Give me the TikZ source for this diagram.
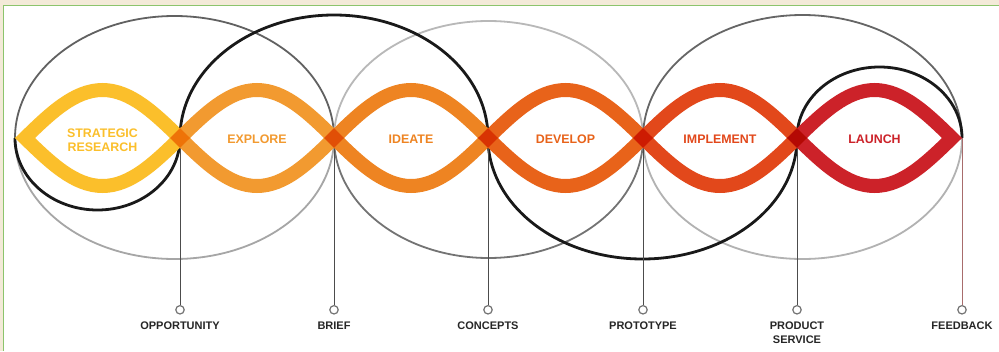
\documentclass[tikz,border=0pt]{standalone}
\usepackage{fontspec}
\setsansfont{Liberation Sans}
\usetikzlibrary{positioning}
\definecolor{paper}{HTML}{F3EAD8}
\definecolor{rim}{HTML}{8CC46C}
\definecolor{research}{HTML}{FBBF2B}
\definecolor{explore}{HTML}{F29A30}
\definecolor{ideate}{HTML}{EE8422}
\definecolor{develop}{HTML}{E8631A}
\definecolor{implement}{HTML}{E2481B}
\definecolor{launch}{HTML}{CC2229}
\definecolor{feedline}{HTML}{A86C6C}

\begin{document}
\begin{tikzpicture}[x=1pt, y=-1pt, semithick, node distance=7pt]
\tikzstyle{lens}=[line width=14pt, miter limit=20]
\tikzstyle{orbit}=[line width=1.8pt]
\tikzstyle{wave}=[line width=2.8pt, draw=black!90]
\tikzstyle{drop}=[draw=black!70, line width=1pt]
\tikzstyle{ring}=[circle, draw=black!55, fill=white, line width=1.2pt, minimum size=8.4pt, inner sep=0pt]
\tikzstyle{milestone}=[font=\sffamily\bfseries\fontsize{11}{13.5}\selectfont, text=black!85, inner sep=0pt, align=center]
\tikzstyle{phase}=[font=\sffamily\bfseries\fontsize{12.4}{14}\selectfont, inner sep=0pt, align=center]
\useasboundingbox (0,0) rectangle (999,351);
\fill[paper] (0,0) rectangle (999,351);
\fill[white] (4,6) rectangle (999,351);
\draw[rim, line width=1.5pt] (3.5,351) -- (3.5,5.5) -- (999,5.5);
% crossing points on the axis
\coordinate (0)  at (15,138);
\coordinate (0t) at (25,138);
\coordinate (1)  at (180,138);
\coordinate (2)  at (334,138);
\coordinate (3)  at (488,138);
\coordinate (4)  at (643,138);
\coordinate (5)  at (797,138);
\coordinate (6t) at (952,138);
\coordinate (6)  at (962,138);
% grey rings
\draw[orbit, black!62] (0) arc[start angle=180, end angle=360, x radius=159.5, y radius=122];
\draw[orbit, black!35] (0) arc[start angle=180, end angle=0, x radius=159.5, y radius=121];
\draw[orbit, black!28] (2) arc[start angle=180, end angle=360, x radius=154.5, y radius=117];
\draw[orbit, black!55] (2) arc[start angle=180, end angle=0, x radius=154.5, y radius=120];
\draw[orbit, black!60] (4) arc[start angle=180, end angle=360, x radius=159.5, y radius=123];
\draw[orbit, black!30] (4) arc[start angle=180, end angle=0, x radius=159.5, y radius=121];
% black wave
\draw[wave] (0) arc[start angle=180, end angle=0, x radius=82.5, y radius=72]
  arc[start angle=180, end angle=360, x radius=154, y radius=123]
  arc[start angle=180, end angle=0, x radius=154.5, y radius=121]
  arc[start angle=180, end angle=360, x radius=82.5, y radius=71];
% milestones
\node[ring] (c1) [below=167pt of 1] {};
\node[ring] (c2) [below=167pt of 2] {};
\node[ring] (c3) [below=167pt of 3] {};
\node[ring] (c4) [below=167pt of 4] {};
\node[ring] (c5) [below=167pt of 5] {};
\node[ring] (c6) [below=167pt of 6] {};
\path[drop]
(1) edge (c1)
(2) edge (c2)
(3) edge (c3)
(4) edge (c4)
(5) edge (c5)
(6) edge[feedline] (c6);
\node[milestone] (m1) [below=of c1] {OPPORTUNITY};
\node[milestone] (m2) [below=of c2] {BRIEF};
\node[milestone] (m3) [below=of c3] {CONCEPTS};
\node[milestone] (m4) [below=of c4] {PROTOTYPE};
\node[milestone] (m5) [below=of c5] {PRODUCT\\SERVICE};
\node[milestone] (m6) [below=of c6] {FEEDBACK};
% the six phases
\begin{scope}[transparency group]
\begin{scope}[blend mode=multiply]
\draw[lens, research]  (0t) sin (102.5,90) cos (1) sin (102.5,186) cos (0t) -- cycle;
\draw[lens, explore]   (1) sin (257,90) cos (2) sin (257,186) cos (1) -- cycle;
\draw[lens, ideate]    (2) sin (411,90) cos (3) sin (411,186) cos (2) -- cycle;
\draw[lens, develop]   (3) sin (565.5,90) cos (4) sin (565.5,186) cos (3) -- cycle;
\draw[lens, implement] (4) sin (720,90) cos (5) sin (720,186) cos (4) -- cycle;
\draw[lens, launch]    (5) sin (874.5,90) cos (6t) sin (874.5,186) cos (5) -- cycle;
\end{scope}
\end{scope}
\node[phase, text=research]  (p1) at (102.5,140) {STRATEGIC\\RESEARCH};
\node[phase, text=explore]   (p2) at (257,139) {EXPLORE};
\node[phase, text=ideate]    (p3) at (411,139) {IDEATE};
\node[phase, text=develop]   (p4) at (565.5,139) {DEVELOP};
\node[phase, text=implement] (p5) at (720,139) {IMPLEMENT};
\node[phase, text=launch]    (p6) at (874.5,139) {LAUNCH};
\end{tikzpicture}
\end{document}
